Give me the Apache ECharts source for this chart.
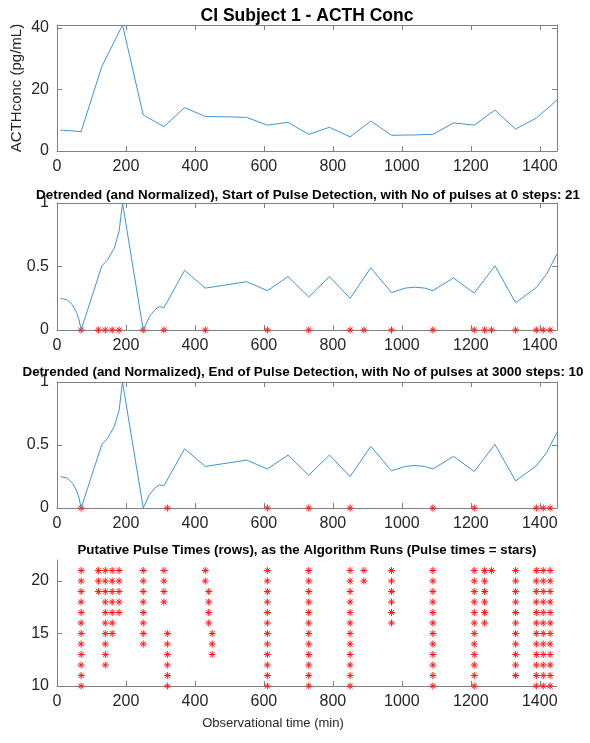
<!DOCTYPE html>
<html>
<head>
<meta charset="utf-8">
<script src="https://cdn.jsdelivr.net/npm/echarts@6/dist/echarts.min.js"></script>
<style>
  html, body { margin: 0; padding: 0; background: #fff; }
  #chart { width: 590px; height: 743px; }
</style>
</head>
<body>
<div id="chart"></div>
<script>
// sample times (min) and raw ACTH concentration
const times = [10, 70, 130, 190, 250, 310, 370, 430, 490, 550, 610, 670, 730, 790, 850, 910, 970, 1030, 1090, 1150, 1210, 1270, 1330, 1390, 1450];
const acth = [6.8, 6.3, 27.4, 40.9, 11.7, 7.9, 14.1, 11.2, 11.1, 10.9, 8.4, 9.3, 5.4, 7.7, 4.6, 9.7, 5.1, 5.2, 5.4, 9.1, 8.4, 13.3, 7.1, 10.7, 16.5];

// detrended + normalized curve
const detrT = [10, 30, 45, 57, 64, 70, 130, 146, 166, 180, 190, 250, 268, 284, 297, 310, 370, 430, 490, 550, 610, 670, 730, 790, 850, 910, 970, 1010, 1038, 1066, 1090, 1150, 1210, 1270, 1330, 1360, 1390, 1420, 1450];
const detrV = [0.25, 0.236, 0.197, 0.137, 0.079, 0, 0.505, 0.55, 0.645, 0.775, 1.0, 0, 0.105, 0.16, 0.185, 0.175, 0.47, 0.33, 0.355, 0.38, 0.31, 0.42, 0.26, 0.42, 0.25, 0.49, 0.295, 0.33, 0.337, 0.33, 0.31, 0.41, 0.29, 0.505, 0.215, 0.275, 0.335, 0.44, 0.6];

// pulse times at start / end of detection
const pulsesStart = [70, 120, 140, 160, 180, 250, 310, 430, 610, 730, 850, 890, 970, 1090, 1210, 1240, 1260, 1330, 1390, 1410, 1430];
const pulsesEnd = [70, 320, 610, 730, 850, 1090, 1210, 1390, 1410, 1430];

// putative pulse times per row (row id = number of pulses)
const rowIds = [21, 20, 19, 18, 17, 16, 15, 14, 13, 12, 11, 10];
const pulseRows = [
  [70, 120, 140, 160, 180, 250, 310, 430, 610, 730, 850, 890, 970, 1090, 1210, 1240, 1260, 1330, 1390, 1410, 1430],
  [70, 120, 140, 160, 180, 250, 310, 430, 610, 730, 850, 890, 970, 1090, 1210, 1240, 1330, 1390, 1410, 1430],
  [70, 120, 140, 160, 180, 250, 310, 440, 610, 730, 850, 970, 1090, 1210, 1240, 1330, 1390, 1410, 1430],
  [70, 140, 160, 180, 250, 310, 440, 610, 730, 850, 970, 1090, 1210, 1240, 1330, 1390, 1410, 1430],
  [70, 140, 160, 180, 250, 440, 610, 730, 850, 970, 1090, 1210, 1240, 1330, 1390, 1410, 1430],
  [70, 140, 160, 250, 440, 610, 730, 850, 970, 1090, 1210, 1240, 1330, 1390, 1410, 1430],
  [70, 140, 160, 250, 320, 450, 610, 730, 850, 1090, 1210, 1330, 1390, 1410, 1430],
  [70, 140, 250, 320, 450, 610, 730, 850, 1090, 1210, 1330, 1390, 1410, 1430],
  [70, 140, 320, 450, 610, 730, 850, 1090, 1210, 1330, 1390, 1410, 1430],
  [70, 140, 320, 610, 730, 850, 1090, 1210, 1330, 1390, 1410, 1430],
  [70, 320, 610, 730, 850, 1090, 1210, 1330, 1390, 1410, 1430],
  [70, 320, 610, 730, 850, 1090, 1210, 1390, 1410, 1430]
];

// tick labels
const xTicks = [0, 200, 400, 600, 800, 1000, 1200, 1400];
const acthTicks = [0, 20, 40];
const normTicks = [0, 0.5, 1];
const rowTicks = [10, 15, 20];

const FONT = '"Liberation Sans", Arial, Helvetica, sans-serif';
const AXIS_COLOR = '#808080';
const TEXT_COLOR = '#262626';
const LINE_COLOR = '#3f94d6';
const STAR = 'path://M0,5L10,5M5,0L5,10M1.5,1.5L8.5,8.5M1.5,8.5L8.5,1.5';

const grids = [
  { left: 57, right: 33, top: 25, height: 126 },
  { left: 57, right: 33, top: 203, height: 127 },
  { left: 57, right: 33, top: 382, height: 126 },
  { left: 57, right: 33, top: 560, height: 126 }
];

function makeAxis(gridIndex, position, min, max, ticks, showLabels) {
  return {
    type: 'value',
    gridIndex: gridIndex,
    position: position,
    min: min,
    max: max,
    splitLine: { show: false },
    axisLine: { show: true, onZero: false, lineStyle: { color: AXIS_COLOR, width: 1 } },
    axisTick: { show: true, inside: true, length: 5, customValues: ticks, lineStyle: { color: AXIS_COLOR } },
    axisLabel: {
      show: showLabels,
      customValues: ticks,
      formatter: v => String(v),
      color: TEXT_COLOR,
      fontSize: 16,
      fontFamily: FONT,
      margin: 8
    }
  };
}

const xAxes = [];
const yAxes = [];
const yRanges = [[0, 40.9, acthTicks], [0, 1, normTicks], [0, 1, normTicks], [10, 22, rowTicks]];
for (let i = 0; i < 4; i++) {
  xAxes.push(makeAxis(i, 'bottom', 0, 1450, xTicks, true));
  yAxes.push(makeAxis(i, 'left', yRanges[i][0], yRanges[i][1], yRanges[i][2], true));
}
// box (top / right) for the first three panels
for (let i = 0; i < 3; i++) {
  xAxes.push(makeAxis(i, 'top', 0, 1450, xTicks, false));
  yAxes.push(makeAxis(i, 'right', yRanges[i][0], yRanges[i][1], yRanges[i][2], false));
}

function lineSeries(idx, xs, ys) {
  return {
    type: 'line',
    xAxisIndex: idx,
    yAxisIndex: idx,
    data: xs.map((t, k) => [t, ys[k]]),
    showSymbol: false,
    lineStyle: { color: LINE_COLOR, width: 1 },
    silent: true
  };
}

function starSeries(idx, data) {
  return {
    type: 'scatter',
    xAxisIndex: idx,
    yAxisIndex: idx,
    data: data,
    symbol: STAR,
    symbolSize: 7,
    clip: false,
    itemStyle: { color: 'rgba(0,0,0,0)', borderColor: '#ff1a1a', borderWidth: 1, opacity: 1 },
    silent: true
  };
}

const rowData = [];
pulseRows.forEach((row, r) => {
  row.forEach(t => rowData.push([t, rowIds[r]]));
});

function label(text, x, y, size, bold, rotation) {
  return {
    type: 'text',
    x: x,
    y: y,
    rotation: rotation || 0,
    silent: true,
    style: {
      text: text,
      fill: bold ? '#000' : TEXT_COLOR,
      font: (bold ? 'bold ' : '') + size + 'px ' + FONT,
      textAlign: 'center',
      textVerticalAlign: 'middle'
    }
  };
}

const chart = echarts.init(document.getElementById('chart'), null, { renderer: 'canvas' });
chart.setOption({
  animation: false,
  backgroundColor: '#fff',
  grid: grids,
  xAxis: xAxes,
  yAxis: yAxes,
  series: [
    lineSeries(0, times, acth),
    lineSeries(1, detrT, detrV),
    starSeries(1, pulsesStart.map(t => [t, 0])),
    lineSeries(2, detrT, detrV),
    starSeries(2, pulsesEnd.map(t => [t, 0])),
    starSeries(3, rowData)
  ],
  graphic: [
    label('CI Subject 1 - ACTH Conc', 307, 16, 17.5, true),
    label('Detrended (and Normalized), Start of Pulse Detection, with No of pulses at 0 steps: 21', 308, 195, 13.4, true),
    label('Detrended (and Normalized), End of Pulse Detection, with No of pulses at 3000 steps: 10', 303, 372, 13.4, true),
    label('Putative Pulse Times (rows), as the Algorithm Runs (Pulse times = stars)', 307, 550, 13.3, true),
    label('ACTHconc (pg/mL)', 17, 88, 15, false, Math.PI / 2),
    label('Observational time (min)', 273, 723, 13, false)
  ]
});
</script>
</body>
</html>
